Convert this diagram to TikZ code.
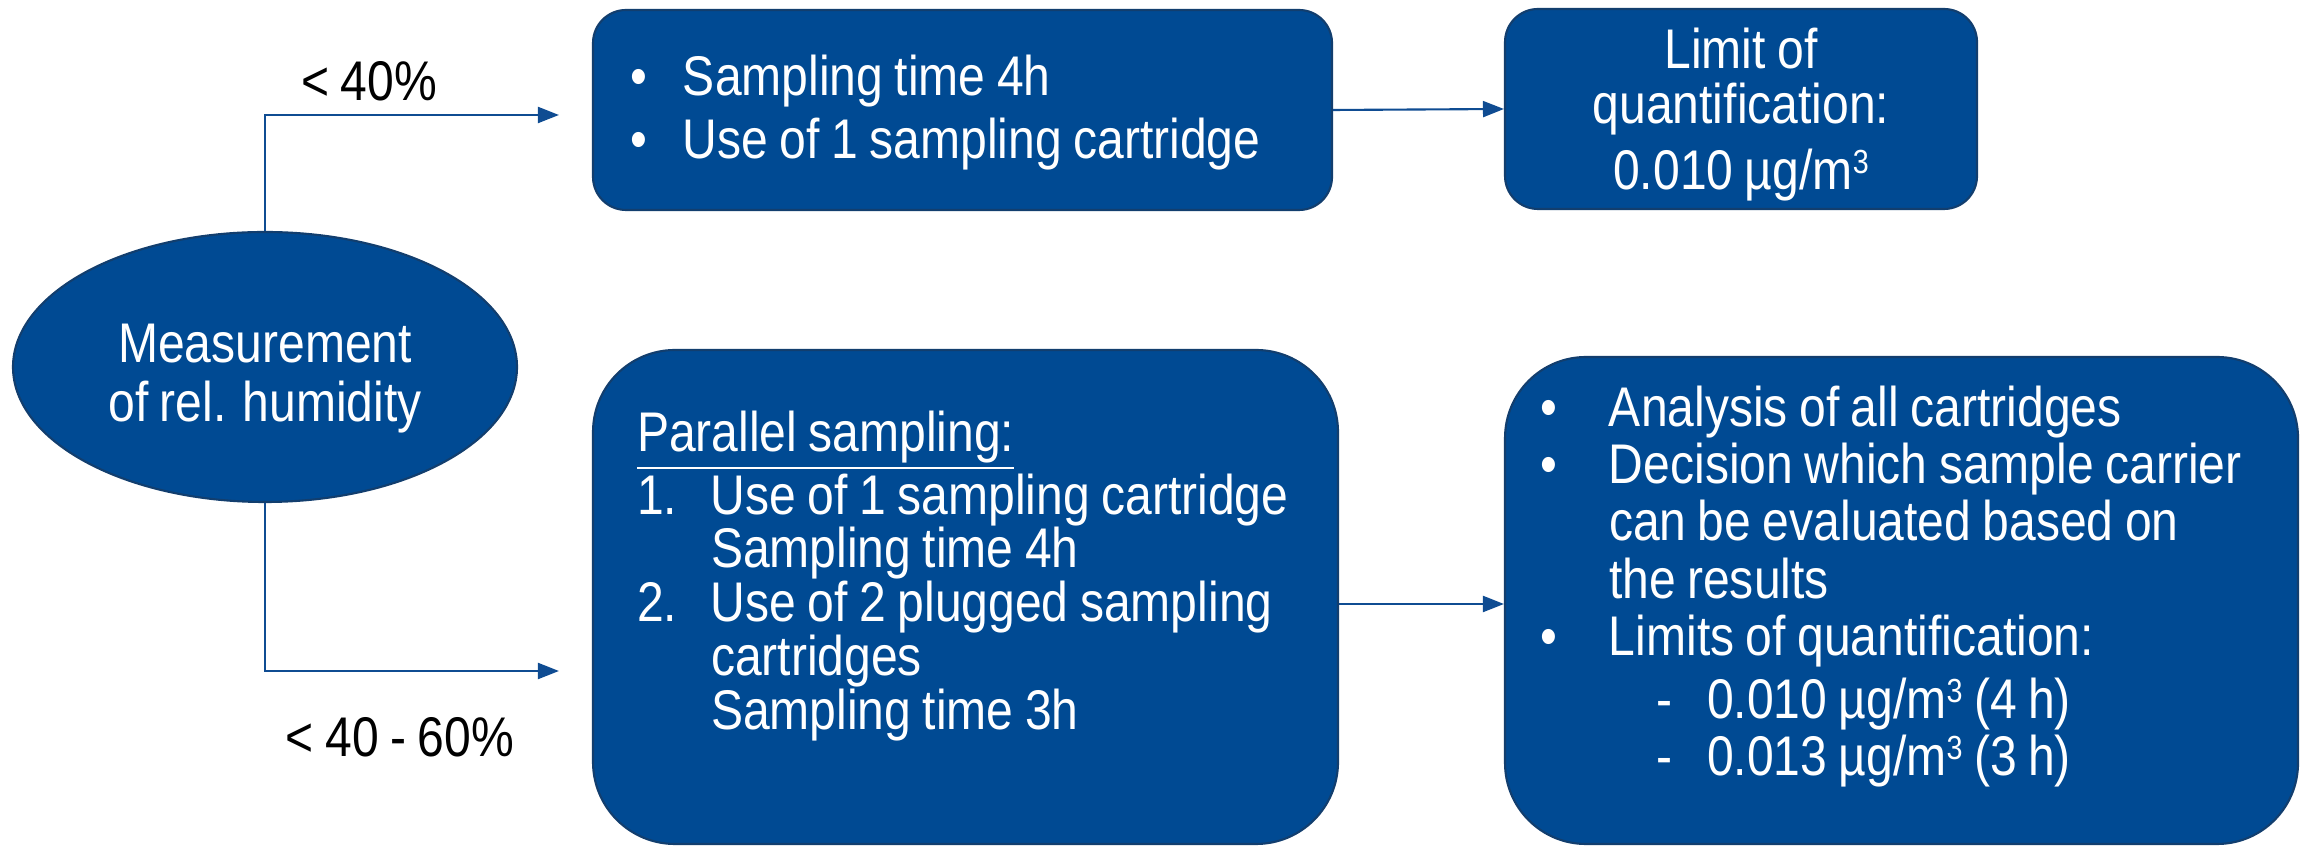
\documentclass[tikz,border=0pt]{standalone}
\usepackage{fontspec}
\setmainfont{Liberation Sans}[FakeStretch=0.86, WordSpace=0.86]
\usepackage{tikz}
\usetikzlibrary{arrows.meta, shapes.geometric, calc}
\usepackage{xcolor}
\definecolor{BoxF}{HTML}{004A93}
\definecolor{BoxD}{HTML}{123E6E}
\definecolor{ArrC}{HTML}{0F4C92}
\newcommand{\bul}[1][0.53cm]{\makebox[#1][l]{\textbullet}}
\newcommand{\nr}[1]{\makebox[0.74cm][l]{#1}}
\newcommand{\cube}{\raisebox{4.6pt}{\fontsize{9.5pt}{9.5pt}\selectfont 3}}
\hyphenpenalty=10000
\exhyphenpenalty=10000
\tikzset{
  BOX/.style={
    rectangle, rounded corners=#1,
    draw=BoxD, fill=BoxF, text=white,
    align=flush left, inner ysep=0pt,
    line width=0.6pt
  },
  ELL/.style={
    ellipse, draw=BoxD, fill=BoxF, text=white,
    align=flush center, inner sep=0pt,
    font=\fontsize{15.9pt}{16.8pt}\selectfont,
    line width=0.6pt
  },
  ARR/.style={
    -{Triangle[length=0.21cm,width=0.16cm]},
    line width=0.6pt, color=ArrC
  },
  LBL/.style={
    font=\fontsize{15.9pt}{17pt}\selectfont, text=black
  },
}

\begin{document}
\begin{tikzpicture}[x=1cm,y=1cm]
\useasboundingbox (0,0) rectangle (23.13,8.49);

%================ START =================
\node[ELL, minimum width=5.04cm, minimum height=2.70cm]
(meas) at (2.65,4.82) {\rule{0pt}{17.6pt}Measurement\\of rel. humidity};

%================ BELOW 40 % =================
\node[BOX=0.33cm, minimum width=7.39cm, minimum height=2.0cm,
text width=6.65cm, inner xsep=0.37cm,
font=\fontsize{15.9pt}{17.9pt}\selectfont]
(one) at (9.625,7.39)
{\bul\rule{0pt}{13.1pt}Sampling time 4h\\
\bul Use of 1 sampling cartridge};

\node[BOX=0.33cm, minimum width=4.72cm, minimum height=2.0cm,
text width=4.0cm, inner xsep=0.36cm, align=flush center,
font=\fontsize{15.9pt}{15.8pt}\selectfont]
(loq) at (17.41,7.40)
{\rule{0pt}{14.6pt}Limit of\\quantification:\\[3pt]0.010 µg/m\cube};

%================ 40 - 60 % =================
\node[BOX=0.82cm, minimum width=7.45cm, minimum height=4.94cm,
text width=6.57cm, inner xsep=0.44cm,
font=\fontsize{15.9pt}{15.3pt}\selectfont]
(par) at (9.655,2.52)
{\underline{Parallel sampling:}\\
\nr{1.}Use of 1 sampling cartridge\\
\hspace*{0.74cm}Sampling time 4h\\
\nr{2.}Use of 2 plugged sampling\\
\hspace*{0.74cm}cartridges\\
\hspace*{0.74cm}Sampling time 3h\\
\mbox{}};

\node[BOX=0.81cm, minimum width=7.93cm, minimum height=4.87cm,
text width=7.23cm, inner xsep=0.35cm,
font=\fontsize{15.9pt}{16.3pt}\selectfont]
(ana) at (19.015,2.485)
{\bul[0.69cm]Analysis of all cartridges\\
\bul[0.69cm]Decision which sample carrier\\
\hspace*{0.69cm}can be evaluated based on\\
\hspace*{0.69cm}the results\\
\bul[0.69cm]Limits of quantification:\\[1.7pt]
\hspace*{1.16cm}\makebox[0.51cm][l]{-}0.010 µg/m\cube\ (4 h)\\
\hspace*{1.16cm}\makebox[0.51cm][l]{-}0.013 µg/m\cube\ (3 h)\\[-5.1pt]
\mbox{}};

%================ BRANCHES =================
\draw[ARR] (meas.north) |- ([xshift=-0.33cm,yshift=-0.05cm]one.west);
\draw[ARR] (meas.south) |- ([xshift=-0.33cm,yshift=-0.74cm]par.west);

\node[LBL] (low) at (3.69,7.68) {< 40\%};
\node[LBL] (mid) at (4.00,1.12) {< 40 - 60\%};

%================ RESULTS =================
\draw[ARR] (one.east) -- (loq.west);
\draw[ARR] ([yshift=-0.07cm]par.east) -- ([yshift=-0.07cm]par.east-|ana.west);

\end{tikzpicture}
\end{document}
